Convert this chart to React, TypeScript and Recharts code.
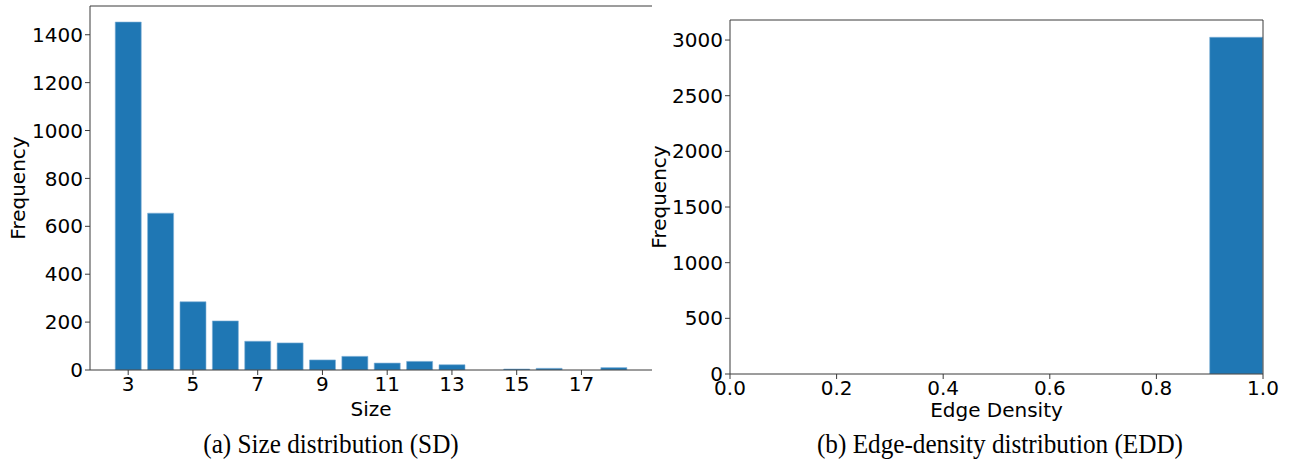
import React from "react";
import { BarChart, Bar, XAxis, YAxis, ReferenceLine } from "recharts";

// ---- Data: (a) Size distribution ----
const sizeCategories = [3, 4, 5, 6, 7, 8, 9, 10, 11, 12, 13, 14, 15, 16, 17, 18];
const sizeFrequency = [1453, 655, 285, 205, 120, 113, 42, 57, 29, 36, 22, 0, 4, 7, 0, 10];
const sizeYTicks = [0, 200, 400, 600, 800, 1000, 1200, 1400];

// ---- Data: (b) Edge-density distribution ----
const densityBinCenters = [0.05, 0.15, 0.25, 0.35, 0.45, 0.55, 0.65, 0.75, 0.85, 0.95];
const densityFrequency = [0, 0, 0, 0, 0, 0, 0, 0, 0, 3025];
const densityXTicks = [0, 0.2, 0.4, 0.6, 0.8, 1.0];
const densityYTicks = [0, 500, 1000, 1500, 2000, 2500, 3000];

const captions = ["(a) Size distribution (SD)", "(b) Edge-density distribution (EDD)"];

const sizeData = sizeCategories.map((s, i) => ({ size: s, freq: sizeFrequency[i] }));
const densityData = densityBinCenters.map((c, i) => ({ x: c, freq: densityFrequency[i] }));

const BAR = "#1f77b4";
const AXIS = "#3a3a3a";
const FONT = "'DejaVu Sans', sans-serif";
const tickStyle = { fontSize: 20, fill: "#000", fontFamily: FONT };

const YLabel = (offsetX: number) => (props: any) => {
  const vb = props.viewBox || {};
  const x = vb.x + offsetX;
  const y = vb.y + vb.height / 2;
  return (
    <text
      x={x}
      y={y}
      transform={`rotate(-90, ${x}, ${y})`}
      textAnchor="middle"
      dominantBaseline="central"
      style={{ fontSize: 20, fontFamily: FONT, fill: "#000" }}
    >
      Frequency
    </text>
  );
};

const XLabel = (text: string, dy: number) => (props: any) => {
  const vb = props.viewBox || {};
  return (
    <text
      x={vb.x + vb.width / 2}
      y={vb.y + dy}
      textAnchor="middle"
      style={{ fontSize: 20, fontFamily: FONT, fill: "#000" }}
    >
      {text}
    </text>
  );
};

const captionStyle = (center: number, w: number): React.CSSProperties => ({
  position: "absolute",
  left: center - w / 2,
  width: w,
  top: 428,
  textAlign: "center",
  fontFamily: "'Liberation Serif', 'Times New Roman', serif",
  fontSize: 28,
  color: "#000",
  lineHeight: "32px",
  whiteSpace: "nowrap",
  transform: "scaleX(0.9)",
});

export default function App() {
  return (
    <div style={{ position: "absolute", left: 0, top: 0, width: 1292, height: 463, background: "#fff", overflow: "hidden" }}>
      <div style={{ position: "absolute", left: 0, top: 0 }}>
        <BarChart
          width={660}
          height={430}
          data={sizeData}
          margin={{ top: 6, right: 8, bottom: 10, left: 0 }}
          barCategoryGap="10%"
        >
          <XAxis
            dataKey="size"
            type="category"
            interval={1}
            height={50}
            padding={{ left: 22, right: 22 }}
            tick={tickStyle}
            tickSize={5}
            tickMargin={2}
            stroke={AXIS}
            tickLine={{ stroke: AXIS }}
            label={{ content: XLabel("Size", 46) } as any}
          />
          <YAxis
            type="number"
            domain={[0, 1520]}
            ticks={sizeYTicks}
            allowDataOverflow
            width={90}
            tick={tickStyle}
            tickSize={5}
            tickMargin={2}
            stroke={AXIS}
            tickLine={{ stroke: AXIS }}
            label={{ content: YLabel(18) } as any}
          />
          <ReferenceLine y={1520} stroke={AXIS} strokeWidth={1} ifOverflow="extendDomain" />
          <Bar
            dataKey="freq"
            fill={BAR}
            stroke="#7fb0d6"
            strokeWidth={0.6}
            isAnimationActive={false}
          />
        </BarChart>
      </div>

      <div style={{ position: "absolute", left: 630, top: 0 }}>
        <BarChart
          width={662}
          height={430}
          data={densityData}
          margin={{ top: 20, right: 29, bottom: 10, left: 0 }}
        >
          <XAxis
            dataKey="x"
            type="number"
            domain={[0, 1]}
            ticks={densityXTicks}
            tickFormatter={(v: number) => v.toFixed(1)}
            allowDataOverflow
            height={46}
            tick={tickStyle}
            tickSize={5}
            tickMargin={2}
            stroke={AXIS}
            tickLine={{ stroke: AXIS }}
            label={{ content: XLabel("Edge Density", 43) } as any}
          />
          <YAxis
            type="number"
            domain={[0, 3180]}
            ticks={densityYTicks}
            allowDataOverflow
            width={100}
            tick={tickStyle}
            tickSize={5}
            tickMargin={2}
            stroke={AXIS}
            tickLine={{ stroke: AXIS }}
            label={{ content: YLabel(29) } as any}
          />
          <Bar
            dataKey="freq"
            fill={BAR}
            stroke="#7fb0d6"
            strokeWidth={0.6}
            barSize={53}
            isAnimationActive={false}
          />
          <ReferenceLine y={3180} stroke={AXIS} strokeWidth={1} />
          <ReferenceLine x={1} stroke={AXIS} strokeWidth={1} />
        </BarChart>
      </div>

      <div style={captionStyle(331, 500)}>{captions[0]}</div>
      <div style={captionStyle(1000, 600)}>{captions[1]}</div>
    </div>
  );
}
